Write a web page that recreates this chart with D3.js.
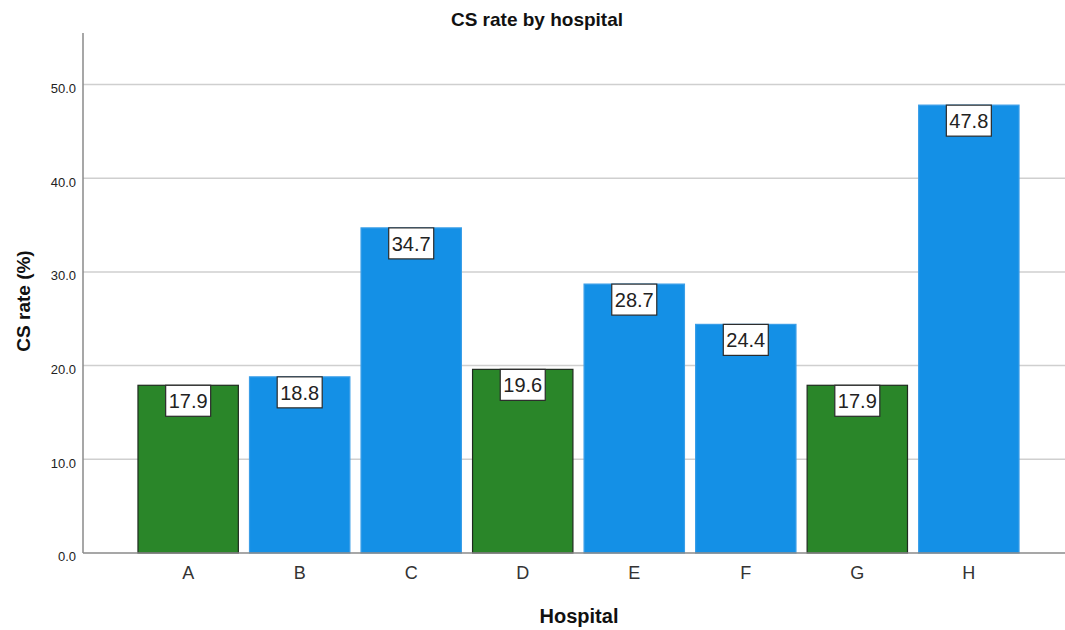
<!DOCTYPE html>
<html>
<head>
<meta charset="utf-8">
<script src="https://cdn.jsdelivr.net/npm/d3@7"></script>
<style>
  html, body { margin: 0; padding: 0; background: #fff; }
  svg { display: block; font-family: "Liberation Sans", Arial, sans-serif; }
</style>
</head>
<body>
<svg id="chart" width="1065" height="630"></svg>
<script>
// CS rate (%) per hospital
const hospitals = ["A", "B", "C", "D", "E", "F", "G", "H"];
const csRates = [17.9, 18.8, 34.7, 19.6, 28.7, 24.4, 17.9, 47.8];
const groups = ["g", "b", "b", "g", "b", "b", "g", "b"];
const yTicks = [0, 10, 20, 30, 40, 50];

const svg = d3.select("#chart");
const plotLeft = 83, plotRight = 1065, plotTop = 33, plotBottom = 553;

const x = d3.scaleBand()
  .domain(hospitals)
  .range([132.4, 1024.6])
  .paddingInner(0.1)
  .paddingOuter(0.05);

const y = d3.scaleLinear()
  .domain([0, 55.5])
  .range([plotBottom, plotTop]);

const fill = { g: "#2a8629", b: "#1490e6" };
const stroke = { g: "#1f2a1f", b: "#3a9ee8" };

// gridlines
svg.append("g")
  .selectAll("line")
  .data(yTicks.filter(d => d > 0))
  .join("line")
  .attr("x1", plotLeft).attr("x2", plotRight)
  .attr("y1", d => y(d)).attr("y2", d => y(d))
  .attr("stroke", "#cfcfcf")
  .attr("stroke-width", 1.5);

// y axis
const yAxis = svg.append("g")
  .attr("transform", `translate(${plotLeft},0)`)
  .call(d3.axisLeft(y).tickValues(yTicks).tickFormat(d3.format(".1f")).tickSize(0).tickPadding(7));
yAxis.select(".domain").remove();
yAxis.selectAll("text")
  .attr("font-size", 13)
  .attr("dy", "0.6em")
  .attr("fill", "#222")
  .attr("font-family", "Liberation Sans, Arial, sans-serif");

svg.append("line")
  .attr("x1", plotLeft).attr("x2", plotLeft)
  .attr("y1", plotTop).attr("y2", plotBottom)
  .attr("stroke", "#8a8a8a").attr("stroke-width", 1.5);

// bars
svg.append("g")
  .selectAll("rect")
  .data(hospitals)
  .join("rect")
  .attr("x", d => x(d))
  .attr("width", x.bandwidth())
  .attr("y", (d, i) => y(csRates[i]))
  .attr("height", (d, i) => y(0) - y(csRates[i]))
  .attr("fill", (d, i) => fill[groups[i]])
  .attr("stroke", (d, i) => stroke[groups[i]])
  .attr("stroke-width", 1.2);

// baseline
svg.append("line")
  .attr("x1", plotLeft).attr("x2", plotRight)
  .attr("y1", plotBottom).attr("y2", plotBottom)
  .attr("stroke", "#8a8a8a").attr("stroke-width", 1.5);

// x axis labels
const xAxis = svg.append("g")
  .attr("transform", `translate(0,${plotBottom})`)
  .call(d3.axisBottom(x).tickSize(0).tickPadding(13));
xAxis.select(".domain").remove();
xAxis.selectAll("text")
  .attr("font-size", 18)
  .attr("fill", "#333")
  .attr("font-family", "Liberation Sans, Arial, sans-serif");

// value labels
const labels = svg.append("g")
  .selectAll("g")
  .data(hospitals)
  .join("g")
  .attr("transform", (d, i) => `translate(${x(d) + x.bandwidth() / 2},${y(csRates[i])})`);

labels.append("rect")
  .attr("x", -22.5).attr("y", 0)
  .attr("width", 45).attr("height", 31)
  .attr("fill", "#fff")
  .attr("stroke", "#2a2a2a")
  .attr("stroke-width", 1.2);

labels.append("text")
  .attr("x", 0).attr("y", 23)
  .attr("text-anchor", "middle")
  .attr("font-size", 20)
  .attr("fill", "#222")
  .text((d, i) => d3.format(".1f")(csRates[i]));

// titles
svg.append("text")
  .attr("x", 537).attr("y", 26)
  .attr("text-anchor", "middle")
  .attr("font-size", 19)
  .attr("font-weight", "bold")
  .attr("fill", "#111")
  .text("CS rate by hospital");

svg.append("text")
  .attr("x", 579).attr("y", 623)
  .attr("text-anchor", "middle")
  .attr("font-size", 20)
  .attr("font-weight", "bold")
  .attr("fill", "#111")
  .text("Hospital");

svg.append("text")
  .attr("transform", "translate(30,301) rotate(-90)")
  .attr("text-anchor", "middle")
  .attr("font-size", 19)
  .attr("font-weight", "bold")
  .attr("fill", "#111")
  .text("CS rate (%)");
</script>
</body>
</html>
